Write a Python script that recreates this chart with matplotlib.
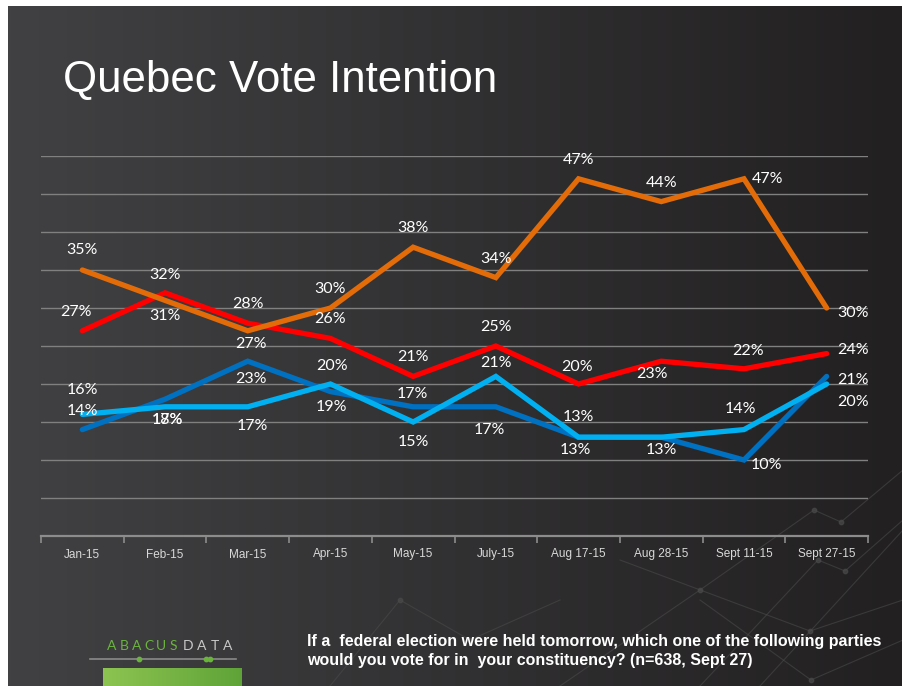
import numpy as np
import matplotlib
matplotlib.use("Agg")
import matplotlib.pyplot as plt

# ---- data -----------------------------------------------------------------
months = ["Jan-15", "Feb-15", "Mar-15", "Apr-15", "May-15", "July-15",
          "Aug 17-15", "Aug 28-15", "Sept 11-15", "Sept 27-15"]
ndp = [35, 31, 27, 30, 38, 34, 47, 44, 47, 30]            # orange
liberal = [27, 32, 28, 26, 21, 25, 20, 23, 22, 24]        # red
conservative = [14, 18, 23, 19, 17, 17, 13, 13, 10, 21]   # dark blue
bloc = [16, 17, 17, 20, 15, 21, 13, 13, 14, 20]           # light blue

# label offsets in pixels (dx, dy); None = no label
off_ndp = [(0, 20), (0, -16), (3, -13), (0, 19), (0, 19), (0, 19),
           (0, 19), (0, 19), (24, 0), (26, -5)]
off_lib = [(-6, 19), (0, 18), (0, 19), (0, 19), (0, 19), (0, 19),
           (-2, 17), (-9, -13), (4, 18), (26, 4)]
off_con = [(0, 19), (2, -21), (3, -18), (1, -15), (-1, 13), (-6, -23),
           (-3, -13), (0, -13), (22, -5), (26, -4)]
off_bq = [(0, 24), (2, -13), (5, -19), (2, 18), (0, -20), (0, 13),
          (0, 20), None, (-4, 21), (26, -18)]

W, H = 903, 686
fig = plt.figure(figsize=(W / 100, H / 100), dpi=100)
fig.patch.set_facecolor("white")

# background gradient panel (white border top/left)
bg = fig.add_axes([0, 0, 1, 1])
bg.axis("off")
c_left = np.array([0x41, 0x41, 0x43]) / 255
c_right = np.array([0x22, 0x20, 0x21]) / 255
t = np.linspace(0, 1, 256)[None, :, None]
bg.imshow(c_left + (c_right - c_left) * t, extent=[8, W, H, 6], aspect="auto")

# faint decorative network lines
net = [[(560, 686), (700, 590), (814, 510), (841, 522), (903, 470)],
       [(700, 686), (818, 560), (845, 571), (903, 520)],
       [(620, 560), (810, 631), (903, 600)],
       [(760, 686), (903, 530)],
       [(330, 686), (400, 600), (470, 640), (560, 600)],
       [(700, 600), (811, 680), (903, 640)]]
for pts in net:
    xs, ys = zip(*pts)
    bg.plot(xs, ys, color="#4a4a4a", lw=0.8, alpha=0.6)
    bg.scatter(xs[1:-1], ys[1:-1], s=10, color="#4a4a4a", alpha=0.7)

# title
bg.text(63, 80, "Quebec Vote Intention", color="white", fontsize=31.6,
        family="Liberation Sans", va="center", ha="left")

# logo (letter-spaced wordmark)
for i, ch in enumerate("ABACUS"):
    bg.text(112 + i * 12.3, 646, ch, color="#6ab43e", fontsize=10,
            family="Lato", va="center", ha="center")
for i, ch in enumerate("DATA"):
    bg.text(188 + i * 13.2, 646, ch, color="#c8c8c8", fontsize=10,
            family="Lato", va="center", ha="center")
bg.plot([90, 236], [659, 659], color="#8a8a8a", lw=1.2)
bg.scatter([139, 206, 210], [659, 659, 659], s=10, color="#6ab43e", zorder=3)
g0 = np.array([0x8d, 0xc4, 0x51]) / 255
g1 = np.array([0x5f, 0xa3, 0x38]) / 255
bg.imshow(g0 + (g1 - g0) * t, extent=[103, 242, 686, 668], aspect="auto")

# footer question
foot = ("If a  federal election were held tomorrow, which one of the following parties\n"
        "would you vote for in  your constituency? (n=638, Sept 27)")
bg.text(307, 651, foot, color="white", fontsize=11.5, fontweight="bold",
        family="Liberation Sans", va="center", ha="left", linespacing=1.3)
bg.set_xlim(0, W)
bg.set_ylim(H, 0)

# ---- main chart -----------------------------------------------------------
ax = fig.add_axes([41 / W, (H - 536) / H, 827 / W, 380 / H])
ax.patch.set_alpha(0)
x = np.arange(len(months))
ax.set_xlim(-0.5, len(months) - 0.5)
ax.set_ylim(0, 50)
for yv in range(5, 55, 5):
    ax.axhline(yv, color="#808080", lw=1.0, zorder=1)

series = [(conservative, "#0070c0", off_con),
          (bloc, "#00b0f0", off_bq),
          (liberal, "#ff0000", off_lib),
          (ndp, "#e36c09", off_ndp)]
for vals, col, offs in series:
    ax.plot(x, vals, color=col, lw=3.8, solid_capstyle="round",
            solid_joinstyle="miter", zorder=3)
for vals, col, offs in series:
    for xi, v, o in zip(x, vals, offs):
        if o is None:
            continue
        ax.annotate(f"{v}%", (xi, v), xytext=o, textcoords="offset pixels",
                    ha="center", va="center", color="white", fontsize=11.5,
                    family="Lato", zorder=5)

for s in ["top", "right", "left"]:
    ax.spines[s].set_visible(False)
ax.spines["bottom"].set_color("#8c8c8c")
ax.spines["bottom"].set_linewidth(1.6)
ax.set_yticks([])
ax.set_xticks(np.arange(-0.5, len(months), 1.0))
ax.set_xticklabels([])
ax.set_xticks(x, minor=True)
ax.set_xticklabels(months, minor=True)
ax.tick_params(axis="x", which="major", direction="out", length=5,
               color="#8c8c8c", width=1.2)
ax.tick_params(axis="x", which="minor", length=0, pad=9,
               labelsize=8.5, labelcolor="#d9d9d9")
for lab in ax.get_xticklabels(minor=True):
    lab.set_family("Liberation Sans")

fig.savefig("out.png", dpi=100, facecolor=fig.get_facecolor())
